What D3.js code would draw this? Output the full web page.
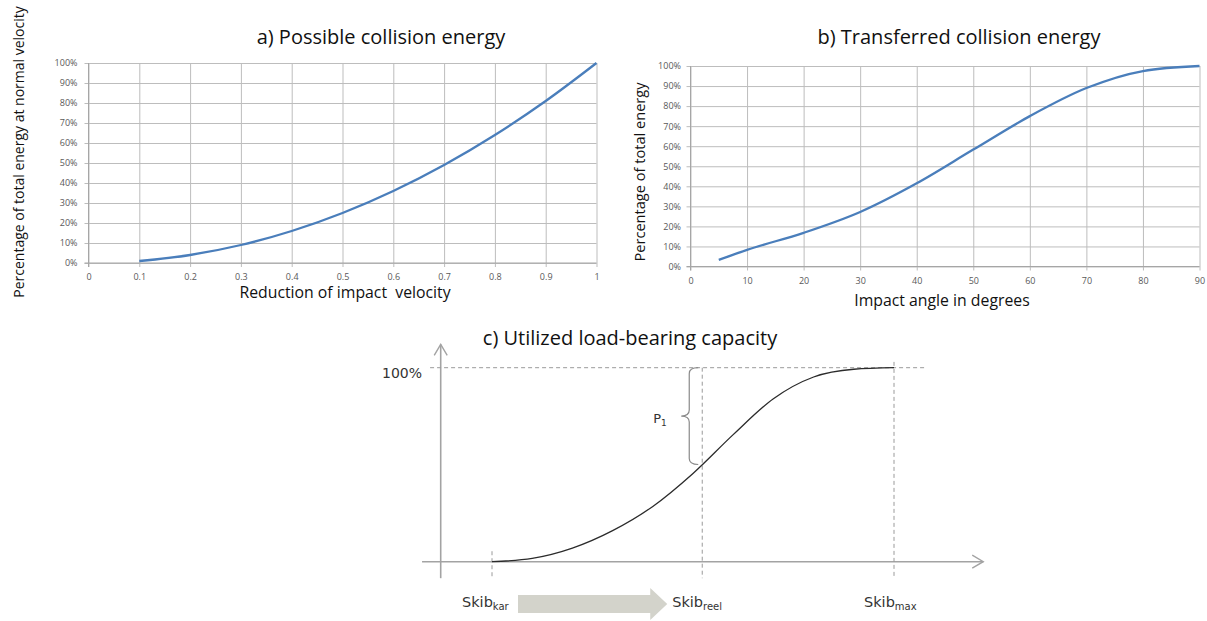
<!DOCTYPE html>
<html>
<head>
<meta charset="utf-8">
<script src="https://cdn.jsdelivr.net/npm/d3@7"></script>
<style>
  body { margin: 0; background: #fff; }
  svg { display: block; }
  .tick text { font-family: "Open Sans", sans-serif; font-size: 9px; fill: #595959; }
  .title { font-family: "Open Sans", sans-serif; font-size: 20px; fill: #111; }
  .axlabel { font-family: "Open Sans", sans-serif; fill: #111; }
  .skib { font-family: "DejaVu Sans", sans-serif; fill: #333; }
</style>
</head>
<body>
<div id="chart"></div>
<script>
// Panel a: possible collision energy
const aVelocity = [0.1, 0.2, 0.3, 0.4, 0.5, 0.6, 0.7, 0.8, 0.9, 1.0];
const aEnergy   = [0.01, 0.04, 0.09, 0.16, 0.25, 0.36, 0.49, 0.64, 0.81, 1.0];
const aXTicks   = [0, 0.1, 0.2, 0.3, 0.4, 0.5, 0.6, 0.7, 0.8, 0.9, 1];
const aXLabels  = ["0", "0.1", "0.2", "0.3", "0.4", "0.5", "0.6", "0.7", "0.8", "0.9", "1"];

// Panel b: transferred collision energy
const bAngle  = [5, 10, 20, 30, 40, 50, 60, 70, 80, 90];
const bEnergy = [0.033, 0.083, 0.168, 0.272, 0.415, 0.583, 0.75, 0.89, 0.975, 1.0];
const bXTicks = [0, 10, 20, 30, 40, 50, 60, 70, 80, 90];

const yTicks = [0, 0.1, 0.2, 0.3, 0.4, 0.5, 0.6, 0.7, 0.8, 0.9, 1];

// Panel c: utilized load-bearing capacity (schematic, normalized)
const cSkib     = [0, 0.1, 0.2, 0.3, 0.4, 0.5, 0.6, 0.7, 0.8, 0.9, 1.0];
const cCapacity = [0, 0.017, 0.07, 0.16, 0.285, 0.455, 0.655, 0.84, 0.952, 0.992, 1.0];
const cMarkers  = ["kar", "reel", "max"];
const cMarkerAt = [0, 0.523, 1];

const svg = d3.select("#chart").append("svg")
  .attr("width", 1207)
  .attr("height", 621);

// Draws a gridded line panel like the Excel charts
function linePanel(cfg) {
  const g = svg.append("g");
  const x = d3.scaleLinear().domain(cfg.xDomain).range(cfg.xRange);
  const y = d3.scaleLinear().domain([0, 1]).range(cfg.yRange);
  const w = cfg.xRange[1] - cfg.xRange[0];
  const h = cfg.yRange[0] - cfg.yRange[1];

  // horizontal grid + y labels
  const ya = g.append("g")
    .attr("transform", `translate(${cfg.xRange[0]},0)`)
    .call(d3.axisLeft(y).tickValues(yTicks).tickFormat(d3.format(".0%"))
      .tickSizeInner(-w).tickSizeOuter(0).tickPadding(cfg.yPad));
  ya.select(".domain").remove();
  ya.selectAll(".tick line").attr("x1", -4).attr("stroke", "#bdbdbd");

  // vertical grid + x labels
  const xa = g.append("g")
    .attr("transform", `translate(0,${cfg.yRange[0]})`)
    .call(d3.axisBottom(x).tickValues(cfg.xTicks)
      .tickFormat((d, i) => cfg.xLabels ? cfg.xLabels[i] : d)
      .tickSizeInner(-h).tickSizeOuter(0).tickPadding(cfg.xPad));
  xa.select(".domain").remove();
  xa.selectAll(".tick line").attr("y1", 4).attr("stroke", "#bdbdbd");

  // axis lines a bit darker
  g.append("line")
    .attr("x1", cfg.xRange[0] - 4).attr("x2", cfg.xRange[1])
    .attr("y1", y(0)).attr("y2", y(0))
    .attr("stroke", "#a6a6a6");
  g.append("line")
    .attr("x1", x(cfg.xDomain[0])).attr("x2", x(cfg.xDomain[0]))
    .attr("y1", y(0) + 4).attr("y2", y(1))
    .attr("stroke", "#a6a6a6");

  const line = d3.line()
    .x((d, i) => x(cfg.xs[i]))
    .y(d => y(d))
    .curve(d3.curveMonotoneX);

  g.append("path")
    .datum(cfg.ys)
    .attr("fill", "none")
    .attr("stroke", "#4a7ebb")
    .attr("stroke-width", 2.3)
    .attr("d", line);

  g.append("text")
    .attr("class", "title")
    .attr("x", cfg.titleX).attr("y", 44)
    .attr("text-anchor", "middle")
    .text(cfg.title);

  g.append("text")
    .attr("class", "axlabel")
    .attr("x", cfg.xLabelX).attr("y", cfg.xLabelY)
    .attr("text-anchor", "middle")
    .style("font-size", "15.8px")
    .text(cfg.xTitle);

  g.append("text")
    .attr("class", "axlabel")
    .attr("transform", `translate(${cfg.yLabelX},${cfg.yLabelY}) rotate(-90)`)
    .attr("text-anchor", "middle")
    .style("font-size", cfg.yLabelSize)
    .text(cfg.yTitle);
}

linePanel({
  xDomain: [0, 1], xRange: [88.5, 596.5], yRange: [263, 63],
  xTicks: aXTicks, xLabels: aXLabels, xs: aVelocity, ys: aEnergy,
  yPad: 11, xPad: 10.5,
  title: "a) Possible collision energy", titleX: 381,
  xTitle: "Reduction of impact\u00a0 velocity", xLabelX: 345, xLabelY: 298,
  yTitle: "Percentage of total energy at normal velocity",
  yLabelX: 24, yLabelY: 152, yLabelSize: "14px"
});

linePanel({
  xDomain: [0, 90], xRange: [690.5, 1199.5], yRange: [266.5, 66],
  xTicks: bXTicks, xLabels: null, xs: bAngle, ys: bEnergy,
  yPad: 9.5, xPad: 11,
  title: "b) Transferred collision energy", titleX: 959,
  xTitle: "Impact angle in degrees", xLabelX: 942, xLabelY: 306,
  yTitle: "Percentage of total energy",
  yLabelX: 645, yLabelY: 172, yLabelSize: "14.6px"
});

// ---- Panel c: schematic S-curve ----
const xC = d3.scaleLinear().domain([0, 1]).range([492, 894]);
const yC = d3.scaleLinear().domain([0, 1]).range([561.7, 367.7]);
const gc = svg.append("g");

gc.append("text")
  .attr("class", "title")
  .attr("x", 630).attr("y", 345)
  .attr("text-anchor", "middle")
  .text("c) Utilized load-bearing capacity");

const axisGray = "#a3a3a3";
const dashGray = "#9a9a9a";

// axes with open arrow heads
const yAxX = xC(-0.1276);
gc.append("line")
  .attr("x1", yAxX).attr("x2", yAxX)
  .attr("y1", yC(-0.085)).attr("y2", yC(1.12))
  .attr("stroke", axisGray).attr("stroke-width", 1.6);
gc.append("path")
  .attr("d", `M${yAxX - 6.5},${yC(1.12) + 11} L${yAxX},${yC(1.12)} L${yAxX + 6.5},${yC(1.12) + 11}`)
  .attr("fill", "none").attr("stroke", axisGray).attr("stroke-width", 1.4);

gc.append("line")
  .attr("x1", xC(-0.174)).attr("x2", xC(1.222))
  .attr("y1", yC(0)).attr("y2", yC(0))
  .attr("stroke", axisGray).attr("stroke-width", 1.6);
gc.append("path")
  .attr("d", `M${xC(1.222) - 11},${yC(0) - 6.5} L${xC(1.222)},${yC(0)} L${xC(1.222) - 11},${yC(0) + 6.5}`)
  .attr("fill", "none").attr("stroke", axisGray).attr("stroke-width", 1.4);

// 100% reference line
gc.append("line")
  .attr("x1", xC(-0.154)).attr("x2", xC(1.08))
  .attr("y1", yC(1)).attr("y2", yC(1))
  .attr("stroke", dashGray).attr("stroke-dasharray", "4,3");

gc.append("text")
  .attr("class", "skib")
  .attr("x", xC(-0.174)).attr("y", yC(1) + 10)
  .attr("text-anchor", "end")
  .style("font-size", "14px")
  .text("100%");

// vertical markers
const markTop = [yC(0.054), yC(1), yC(1.03)];
cMarkerAt.forEach((m, i) => {
  gc.append("line")
    .attr("x1", xC(m)).attr("x2", xC(m))
    .attr("y1", markTop[i]).attr("y2", yC(-0.085))
    .attr("stroke", dashGray).attr("stroke-dasharray", "4,3");

  const t = gc.append("text")
    .attr("class", "skib")
    .attr("x", xC(m) - 30).attr("y", 607)
    .style("font-size", "14.5px");
  t.append("tspan").text("Skib");
  t.append("tspan").attr("dy", 3).style("font-size", "10px").text(cMarkers[i]);
});

// the S-curve
gc.append("path")
  .datum(cCapacity)
  .attr("fill", "none")
  .attr("stroke", "#2b2b2b")
  .attr("stroke-width", 1.3)
  .attr("d", d3.line()
    .x((d, i) => xC(cSkib[i]))
    .y(d => yC(d))
    .curve(d3.curveMonotoneX));

// P1 brace between the curve at Skib_reel and 100%
const reelIdx = d3.bisectLeft(cSkib, cMarkerAt[1]);
const reelVal = d3.interpolateNumber(cCapacity[reelIdx - 1], cCapacity[reelIdx])(
  (cMarkerAt[1] - cSkib[reelIdx - 1]) / (cSkib[reelIdx] - cSkib[reelIdx - 1]));
const bx = xC(cMarkerAt[1]) - 13, bTop = yC(1), bBot = yC(reelVal), bMid = (bTop + bBot) / 2;
gc.append("path")
  .attr("d", `M${bx + 9},${bTop} Q${bx},${bTop} ${bx},${bTop + 6} L${bx},${bMid - 6} Q${bx},${bMid} ${bx - 8},${bMid}` +
             ` Q${bx},${bMid} ${bx},${bMid + 6} L${bx},${bBot - 6} Q${bx},${bBot} ${bx + 9},${bBot}`)
  .attr("fill", "none").attr("stroke", "#8a8a8a").attr("stroke-width", 1.2);

const p1 = gc.append("text")
  .attr("class", "skib")
  .attr("x", bx - 36).attr("y", bMid + 7)
  .style("font-size", "13px");
p1.append("tspan").text("P");
p1.append("tspan").attr("dy", 3).style("font-size", "9px").text("1");

// grey block arrow from Skib_kar to Skib_reel
const ax0 = xC(cMarkerAt[0]) + 26, ax1 = xC(cMarkerAt[1]) - 35;
const ay = 604;
gc.append("path")
  .attr("d", `M${ax0},${ay - 9} L${ax1 - 17},${ay - 9} L${ax1 - 17},${ay - 16} L${ax1},${ay}` +
             ` L${ax1 - 17},${ay + 16} L${ax1 - 17},${ay + 9} L${ax0},${ay + 9} Z`)
  .attr("fill", "#d3d3cb");
</script>
</body>
</html>
